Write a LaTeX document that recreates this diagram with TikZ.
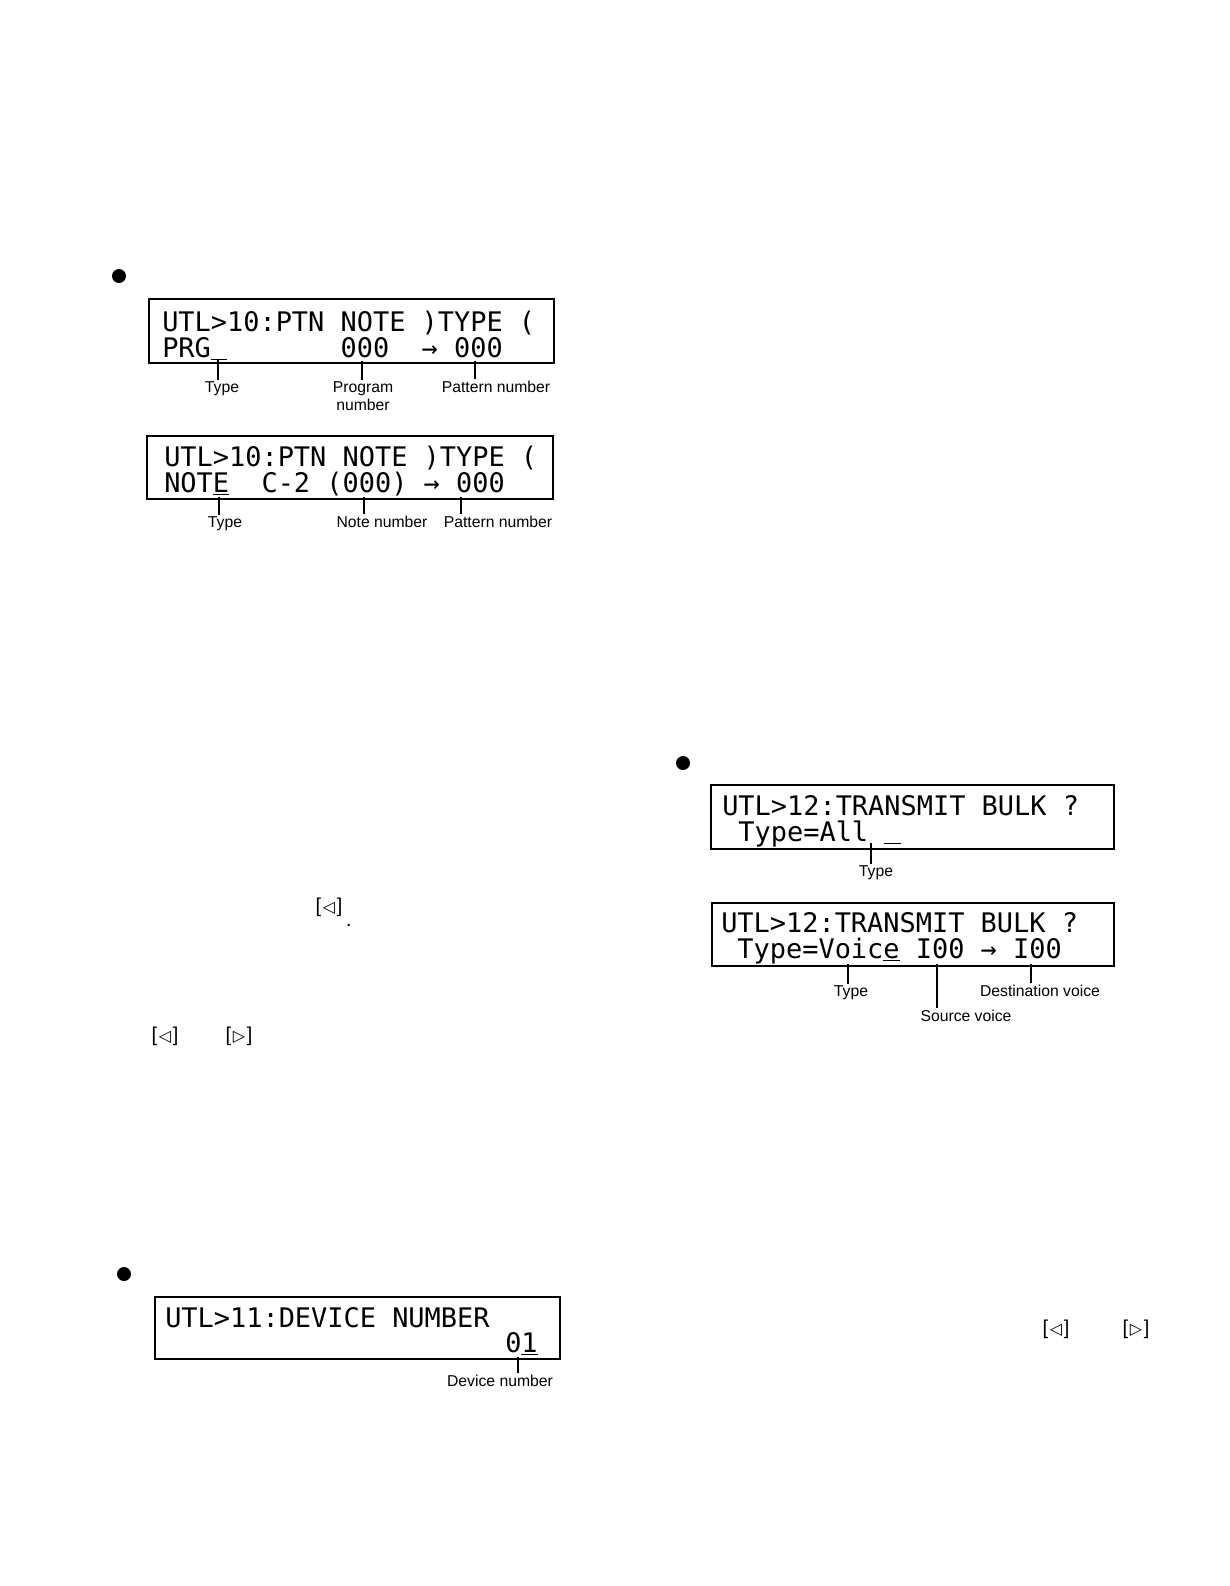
\documentclass[tikz,border=0pt]{standalone}
\usepackage{fontspec}
\setmainfont{Liberation Sans}
\newfontfamily\lcdfont{DejaVu Sans Mono}
\newfontfamily\symfont{DejaVu Sans}
\newcommand{\lkey}{[\kern1.2pt{\symfont\fontsize{12}{14}\selectfont ◁}\kern1.2pt]}
\newcommand{\rkey}{[\kern1.2pt{\symfont\fontsize{12}{14}\selectfont ▷}\kern1.2pt]}
\newcommand{\lcdcursor}{\underline{~}}
\begin{document}
\begin{tikzpicture}[x=0.75pt,y=-0.75pt,
  lcdbox/.style={draw, line width=1.1pt, inner sep=0pt},
  lcdtext/.style={inner sep=0pt, anchor=base west, font=\lcdfont\fontsize{20.2}{24}\selectfont},
  lbl/.style={inner sep=1pt, anchor=base, font=\fontsize{11.8}{13.5}\selectfont, align=center},
  conn/.style={line width=0.8pt},
  bulletdot/.style={circle, fill, inner sep=0pt, minimum size=10.5pt},
  keysym/.style={inner sep=0pt, anchor=base, font=\fontsize{15}{18}\selectfont}]
\useasboundingbox (0,0) rectangle (1230,1586);
\fill[white] (0,0) rectangle (1230,1586);

% ---------- Section 1 (UTL>10) ----------
\node[bulletdot] (bul1) at (119,276) {};
\node[lcdbox, minimum width=303.75pt, minimum height=48pt] (box1) at (351.5,331) {};
\node[lcdtext] (b1l1) at (162,331) {UTL>10:PTN NOTE )TYPE (};
\node[lcdtext] (b1l2) at (162,357) {PRG\lcdcursor~~~~~~~000~~→~000};
\node[lbl] (l1a) at (222,392) {Type};
\node[lbl, anchor=north] (l1b) at (363,380) {Program\\number};
\node[lbl] (l1c) at (496,392) {Pattern number};
\coordinate (p1a) at (218,359);
\coordinate (p1b) at (362,361);
\coordinate (p1c) at (475,361);
\draw[conn] (p1a) -- (p1a |- l1a.north);
\draw[conn] (p1b) -- (p1b |- l1b.north);
\draw[conn] (p1c) -- (p1c |- l1c.north);

\node[lcdbox, minimum width=304.5pt, minimum height=47.25pt] (box2) at (350,467.5) {};
\node[lcdtext] (b2l1) at (164,466) {UTL>10:PTN NOTE )TYPE (};
\node[lcdtext] (b2l2) at (164,492) {NOT\underline{E}~~C-2~(000)~→~000};
\node[lbl] (l2a) at (225,527) {Type};
\node[lbl] (l2b) at (382,527) {Note number};
\node[lbl] (l2c) at (498,527) {Pattern number};
\coordinate (p2a) at (219,497);
\coordinate (p2b) at (364,497);
\coordinate (p2c) at (461,497);
\draw[conn] (p2a) -- (p2a |- l2a.north);
\draw[conn] (p2b) -- (p2b |- l2b.north);
\draw[conn] (p2c) -- (p2c |- l2c.north);

% ---------- key symbols (left) ----------
\node[keysym] (k1) at (329,912) {\lkey};
\node[keysym] (k1dot) at (349,926) {.};
\node[keysym] (k2) at (165,1041) {\lkey};
\node[keysym] (k3) at (239,1041) {\rkey};

% ---------- Section 2 (UTL>11) ----------
\node[bulletdot] (bul2) at (124,1274) {};
\node[lcdbox, minimum width=303.75pt, minimum height=46.5pt] (box5) at (357.5,1328) {};
\node[lcdtext] (b5l1) at (165,1327) {UTL>11:DEVICE NUMBER};
\node[lcdtext] (b5l2) at (505,1352) {0\underline{1}};
\node[lbl] (l5a) at (500,1386) {Device number};
\coordinate (p5a) at (518,1357);
\draw[conn] (p5a) -- (p5a |- l5a.north);

% ---------- Section 3 (UTL>12) ----------
\node[bulletdot] (bul3) at (683,763) {};
\node[lcdbox, minimum width=302.25pt, minimum height=48pt] (box3) at (912.5,817) {};
\node[lcdtext] (b3l1) at (722,815) {UTL>12:TRANSMIT BULK ?};
\node[lcdtext] (b3l2) at (722,841) {~Type=All~\lcdcursor};
\node[lbl] (l3a) at (876,876) {Type};
\coordinate (p3a) at (871,843);
\draw[conn] (p3a) -- (p3a |- l3a.north);

\node[lcdbox, minimum width=301.5pt, minimum height=47.25pt] (box4) at (913,934.5) {};
\node[lcdtext] (b4l1) at (721,932) {UTL>12:TRANSMIT BULK ?};
\node[lcdtext] (b4l2) at (721,958) {~Type=Voic\underline{e}~I00~→~I00};
\node[lbl] (l4a) at (851,996) {Type};
\node[lbl] (l4b) at (966,1021) {Source voice};
\node[lbl] (l4c) at (1040,996) {Destination voice};
\coordinate (p4a) at (848,964);
\coordinate (p4b) at (937,964);
\coordinate (p4c) at (1031,964);
\draw[conn] (p4a) -- (p4a |- l4a.north);
\draw[conn] (p4b) -- (p4b |- l4b.north);
\draw[conn] (p4c) -- (p4c |- l4c.north);

% ---------- key symbols (right) ----------
\node[keysym] (k4) at (1056,1334) {\lkey};
\node[keysym] (k5) at (1136,1334) {\rkey};
\end{tikzpicture}
\end{document}
